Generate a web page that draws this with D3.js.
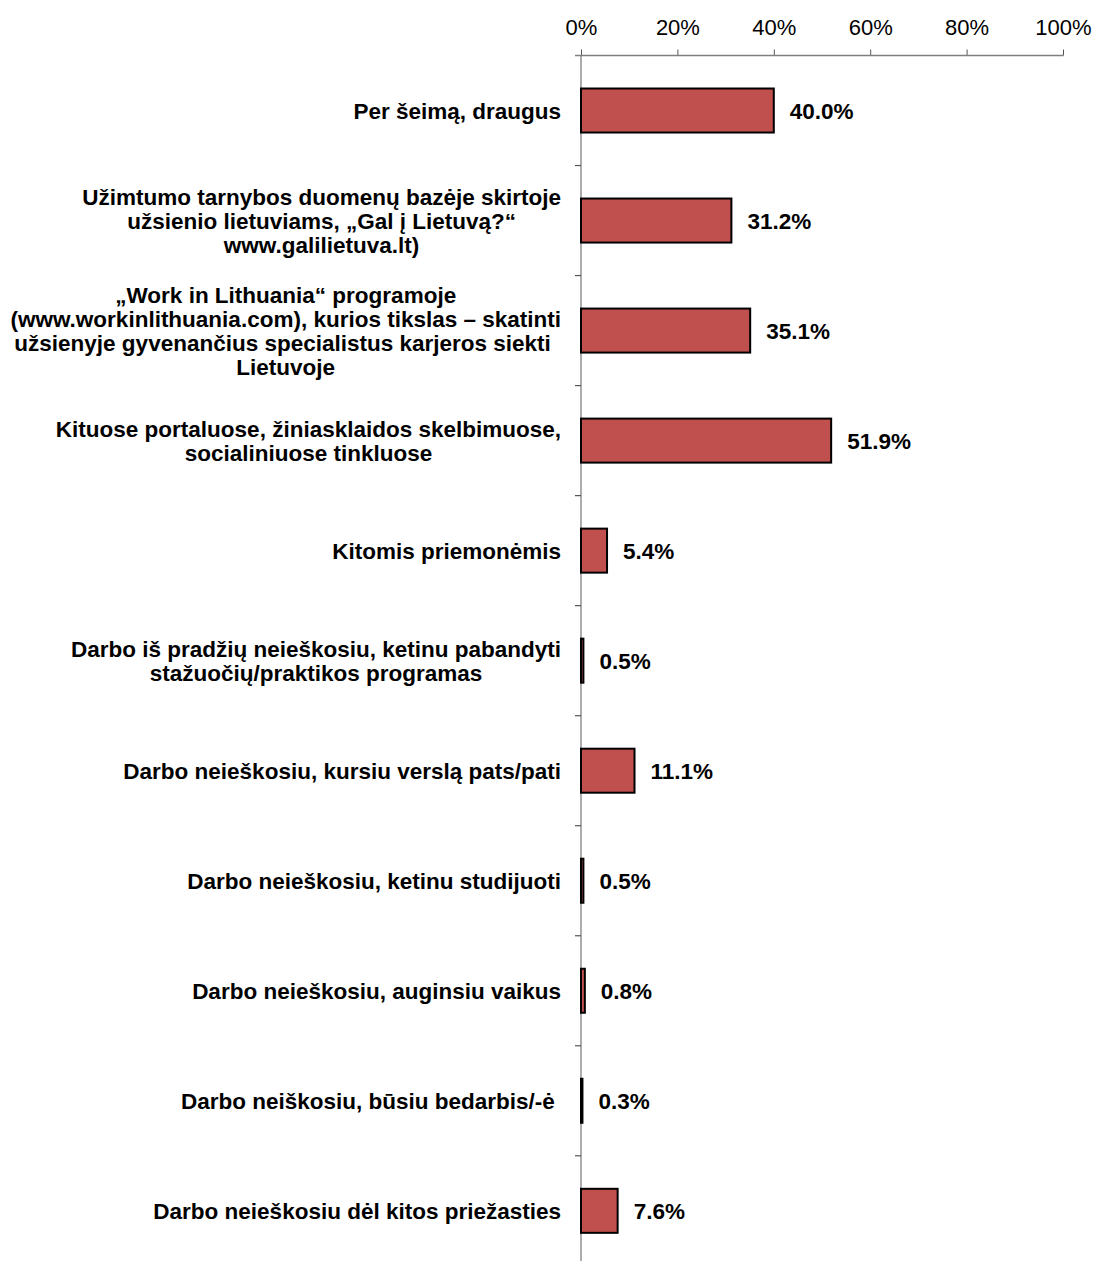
<!DOCTYPE html>
<html>
<head>
<meta charset="utf-8">
<script src="https://cdn.jsdelivr.net/npm/d3@7"></script>
<style>
  html, body { margin: 0; padding: 0; background: #fff; }
  svg { display: block; }
  .cat { white-space: pre; }
</style>
</head>
<body>
<svg id="chart" width="1096" height="1261"></svg>
<script>
const categories = [
  ["Per šeimą, draugus"],
  ["Užimtumo tarnybos duomenų bazėje skirtoje", "užsienio lietuviams, „Gal į Lietuvą?“", "www.galilietuva.lt)"],
  ["„Work in Lithuania“ programoje", "(www.workinlithuania.com), kurios tikslas – skatinti", "užsienyje gyvenančius specialistus karjeros siekti ", "Lietuvoje"],
  ["Kituose portaluose, žiniasklaidos skelbimuose,", "socialiniuose tinkluose"],
  ["Kitomis priemonėmis"],
  ["Darbo iš pradžių neieškosiu, ketinu pabandyti", "stažuočių/praktikos programas"],
  ["Darbo neieškosiu, kursiu verslą pats/pati"],
  ["Darbo neieškosiu, ketinu studijuoti"],
  ["Darbo neieškosiu, auginsiu vaikus"],
  ["Darbo neiškosiu, būsiu bedarbis/-ė "],
  ["Darbo neieškosiu dėl kitos priežasties"]
];
const values = [40.0, 31.2, 35.1, 51.9, 5.4, 0.5, 11.1, 0.5, 0.8, 0.3, 7.6];
const tickValues = [0, 20, 40, 60, 80, 100];

const svg = d3.select("#chart");
const font = "'Liberation Sans', Arial, sans-serif";
const axisColor = "#808080";

const x0 = 581, x1 = 1063, yTop = 55.5, step = 110.03;
const x = d3.scaleLinear().domain([0, 100]).range([x0, x1]);
const ids = categories.map((d, i) => i);
const y = d3.scaleBand().domain(ids)
  .range([yTop, yTop + step * categories.length])
  .paddingInner(0.6).paddingOuter(0.3);

// top axis
const xAxis = d3.axisTop(x).tickValues(tickValues).tickSize(6).tickSizeOuter(0)
  .tickFormat(d => d + "%");
const gx = svg.append("g").attr("transform", `translate(0,${yTop})`).call(xAxis);
gx.select(".domain").remove();
gx.selectAll(".tick line").attr("stroke", "#555").attr("stroke-width", 1);
gx.selectAll(".tick text").attr("font-family", font).attr("font-size", 22)
  .attr("fill", "#000").attr("y", -20.5).attr("dy", 0);
svg.append("line").attr("x1", x0 - 6).attr("x2", x1 + 0.5).attr("y1", yTop).attr("y2", yTop)
  .attr("stroke", axisColor).attr("stroke-width", 1.3);

// vertical axis
svg.append("line").attr("x1", x0).attr("x2", x0).attr("y1", yTop).attr("y2", 1261)
  .attr("stroke", axisColor).attr("stroke-width", 1.3);
for (let i = 1; i < categories.length; i++) {
  const yy = yTop + i * y.step();
  svg.append("line").attr("x1", x0 - 6).attr("x2", x0).attr("y1", yy).attr("y2", yy)
    .attr("stroke", "#555").attr("stroke-width", 1.2);
}

// bars
svg.append("g").selectAll("rect").data(values).join("rect")
  .attr("x", x(0))
  .attr("y", (d, i) => y(i))
  .attr("width", d => x(d) - x(0))
  .attr("height", y.bandwidth())
  .attr("fill", "#C0504D")
  .attr("stroke", "#000")
  .attr("stroke-width", 2);

// value labels
svg.append("g").selectAll("text").data(values).join("text")
  .attr("x", d => x(d) + 16)
  .attr("y", (d, i) => y(i) + y.bandwidth() / 2 + 0.5)
  .attr("dy", "0.36em")
  .attr("font-family", font).attr("font-size", 22.5).attr("font-weight", "bold")
  .text(d => d.toFixed(1) + "%");

// category labels
const labelRight = 561, lineH = 24;
categories.forEach((lines, i) => {
  const cy = y(i) + y.bandwidth() / 2 + 0.5;
  const t = svg.append("text").attr("class", "cat").attr("font-family", font).attr("font-size", 22.5)
    .attr("font-weight", "bold").attr("text-anchor", "middle");
  const spans = lines.map((ln, j) => t.append("tspan")
    .attr("y", cy + (j - (lines.length - 1) / 2) * lineH)
    .attr("dy", "0.36em").text(ln));
  const maxW = d3.max(spans, s => s.node().getComputedTextLength());
  spans.forEach(s => s.attr("x", labelRight - maxW / 2));
});
</script>
</body>
</html>
